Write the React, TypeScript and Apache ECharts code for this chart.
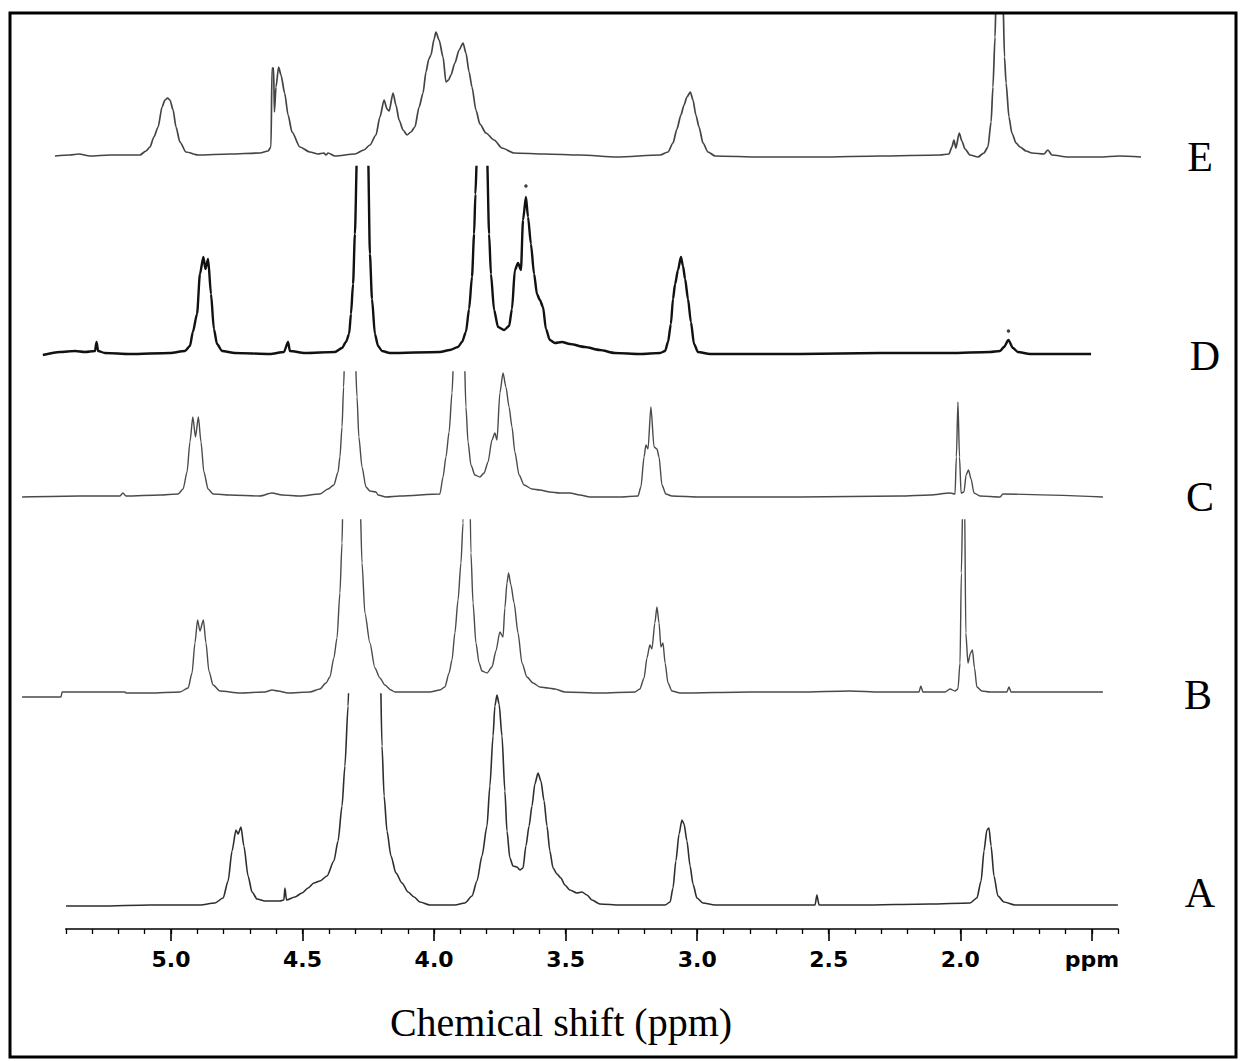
import React, { useEffect, useRef } from "react";
import * as echarts from "echarts";

// Stacked 1H NMR spectra, ppm vs intensity (relative)
const traceNames = ["E", "D", "C", "B", "A"];

const specE: [number, number][] = [
  [5.441, 1], [5.384, 2], [5.35, 3], [5.308, 1], [5.232, 2], [5.118, 2], [5.095, 6], [5.08, 10],
  [5.065, 20], [5.049, 30], [5.034, 50], [5.023, 57], [5.013, 59], [5.004, 57], [4.992, 47],
  [4.981, 30], [4.966, 15], [4.943, 5], [4.897, 2], [4.776, 3], [4.662, 4], [4.631, 6], [4.62, 10],
  [4.616, 89], [4.61, 89], [4.607, 45], [4.601, 70], [4.591, 90], [4.582, 82], [4.568, 64],
  [4.555, 42], [4.54, 25], [4.51, 10], [4.472, 5], [4.441, 3], [4.419, 4], [4.411, 2], [4.403, 4],
  [4.377, 1], [4.301, 3], [4.267, 7], [4.244, 12], [4.221, 22], [4.206, 40], [4.19, 57], [4.179, 48],
  [4.171, 46], [4.156, 64], [4.145, 52], [4.133, 37], [4.118, 27], [4.103, 22], [4.088, 25],
  [4.073, 30], [4.057, 50], [4.042, 64], [4.031, 85], [4.02, 98], [4.012, 102], [4.0, 118],
  [3.993, 125], [3.981, 117], [3.966, 100], [3.955, 75], [3.945, 77], [3.936, 82], [3.921, 94],
  [3.905, 107], [3.89, 114], [3.879, 104], [3.867, 85], [3.856, 70], [3.841, 47], [3.826, 33],
  [3.803, 24], [3.772, 17], [3.742, 9], [3.696, 4], [3.579, 3], [3.446, 2], [3.305, 0], [3.141, 2],
  [3.111, 5], [3.092, 14], [3.077, 28], [3.062, 42], [3.05, 52], [3.039, 60], [3.026, 65],
  [3.016, 57], [3.005, 42], [2.993, 30], [2.978, 14], [2.959, 5], [2.932, 1], [2.761, 0], [2.533, 0],
  [2.305, 1], [2.077, 2], [2.043, 3], [2.032, 10], [2.024, 17], [2.017, 9], [2.004, 24], [1.994, 16],
  [1.982, 8], [1.963, 2], [1.933, 0], [1.91, 4], [1.895, 10], [1.883, 35], [1.876, 70], [1.868, 120],
  [1.864, 160], [1.851, 250], [1.838, 160], [1.832, 100], [1.826, 74], [1.815, 40], [1.804, 24],
  [1.788, 14], [1.773, 10], [1.75, 6], [1.728, 4], [1.682, 3], [1.667, 7], [1.652, 2], [1.591, 0],
  [1.469, 0], [1.397, 1], [1.313, 0],
];

const specD: [number, number][] = [
  [5.487, -1], [5.422, 2], [5.365, 3], [5.327, 2], [5.289, 3], [5.283, 12], [5.277, 3], [5.251, 1],
  [5.156, 0], [5.004, 1], [4.947, 3], [4.928, 8], [4.917, 22], [4.901, 40], [4.89, 80], [4.877, 97],
  [4.869, 85], [4.859, 95], [4.848, 60], [4.837, 25], [4.825, 10], [4.806, 3], [4.757, 1], [4.624, 0],
  [4.571, 2], [4.555, 12], [4.548, 3], [4.491, 1], [4.377, 2], [4.35, 6], [4.335, 12], [4.323, 20],
  [4.316, 40], [4.308, 70], [4.301, 120], [4.293, 200], [4.272, 300], [4.251, 200], [4.244, 100],
  [4.236, 55], [4.225, 20], [4.213, 8], [4.198, 3], [4.168, 1], [3.978, 2], [3.94, 4], [3.909, 7],
  [3.894, 12], [3.879, 22], [3.867, 45], [3.856, 77], [3.848, 120], [3.843, 160], [3.837, 200],
  [3.818, 300], [3.799, 200], [3.791, 120], [3.784, 80], [3.772, 44], [3.757, 27], [3.734, 24],
  [3.715, 28], [3.704, 45], [3.693, 84], [3.681, 91], [3.67, 84], [3.662, 134], [3.651, 157],
  [3.643, 137], [3.632, 110], [3.62, 80], [3.609, 60], [3.598, 54], [3.586, 47], [3.575, 25],
  [3.56, 14], [3.541, 11], [3.514, 12], [3.484, 10], [3.427, 7], [3.37, 4], [3.313, 1], [3.217, 0],
  [3.141, 1], [3.122, 3], [3.111, 12], [3.1, 30], [3.092, 55], [3.084, 70], [3.073, 84], [3.062, 97],
  [3.054, 88], [3.046, 75], [3.035, 55], [3.024, 32], [3.012, 10], [2.997, 2], [2.951, 0], [2.609, 0],
  [2.305, 1], [2.039, 1], [1.887, 2], [1.849, 3], [1.834, 7], [1.817, 14], [1.8, 6], [1.781, 2],
  [1.735, 0], [1.503, 0],
];

const starsD: [number, number][] = [[3.651, 168], [1.817, 23]];

const specC: [number, number][] = [
  [5.566, 0], [5.346, 1], [5.194, 1], [5.183, 4], [5.171, 1], [5.042, 2], [4.973, 3], [4.954, 8],
  [4.939, 25], [4.928, 55], [4.917, 80], [4.907, 60], [4.896, 80], [4.886, 55], [4.875, 25],
  [4.859, 8], [4.84, 3], [4.776, 2], [4.662, 1], [4.616, 4], [4.578, 2], [4.51, 1], [4.434, 3],
  [4.403, 8], [4.381, 12], [4.365, 25], [4.358, 40], [4.35, 70], [4.344, 110], [4.339, 150],
  [4.32, 200], [4.301, 150], [4.293, 100], [4.286, 60], [4.274, 30], [4.259, 10], [4.244, 6],
  [4.221, 5], [4.213, 2], [4.183, 0], [4.13, 1], [3.978, 3], [3.966, 20], [3.955, 40], [3.943, 65],
  [3.932, 104], [3.924, 150], [3.905, 200], [3.886, 150], [3.879, 90], [3.871, 55], [3.86, 32],
  [3.845, 22], [3.826, 20], [3.81, 24], [3.795, 35], [3.78, 57], [3.769, 64], [3.761, 57],
  [3.75, 104], [3.738, 124], [3.727, 110], [3.715, 90], [3.704, 70], [3.693, 45], [3.677, 22],
  [3.658, 12], [3.628, 8], [3.598, 7], [3.56, 5], [3.522, 4], [3.484, 4], [3.446, 2], [3.407, 0],
  [3.294, 0], [3.225, 1], [3.214, 10], [3.202, 40], [3.195, 52], [3.187, 48], [3.176, 90],
  [3.164, 50], [3.153, 48], [3.145, 40], [3.134, 12], [3.119, 3], [3.096, 1], [2.989, 0], [2.609, 0],
  [2.229, 1], [2.115, 2], [2.039, 4], [2.02, 3], [2.015, 40], [2.009, 95], [2.003, 40], [1.997, 4],
  [1.986, 5], [1.978, 22], [1.969, 27], [1.959, 18], [1.948, 4], [1.925, 1], [1.849, 0], [1.838, 3],
  [1.458, 0],
];

const specB: [number, number][] = [
  [5.566, -4], [5.418, -4], [5.414, 1], [5.175, 1], [5.171, 0], [5.08, 0], [4.966, 1], [4.935, 5],
  [4.92, 20], [4.909, 50], [4.899, 73], [4.89, 62], [4.877, 73], [4.867, 50], [4.856, 22], [4.84, 8],
  [4.814, 2], [4.738, 0], [4.643, 1], [4.616, 3], [4.593, 2], [4.555, 0], [4.472, 1], [4.434, 4],
  [4.411, 10], [4.396, 16], [4.381, 35], [4.369, 55], [4.358, 100], [4.35, 150], [4.346, 200],
  [4.339, 260], [4.312, 320], [4.289, 260], [4.282, 200], [4.274, 130], [4.263, 80], [4.244, 50],
  [4.225, 25], [4.206, 15], [4.187, 8], [4.164, 3], [4.149, 1], [4.016, 1], [3.978, 3], [3.959, 6],
  [3.943, 20], [3.932, 33], [3.921, 60], [3.909, 93], [3.898, 130], [3.89, 170], [3.883, 260],
  [3.875, 300], [3.867, 260], [3.86, 140], [3.852, 90], [3.841, 50], [3.829, 30], [3.818, 22],
  [3.799, 20], [3.78, 26], [3.765, 42], [3.75, 61], [3.738, 56], [3.731, 85], [3.723, 110],
  [3.717, 120], [3.708, 108], [3.696, 90], [3.681, 60], [3.666, 30], [3.647, 16], [3.624, 10],
  [3.598, 6], [3.567, 5], [3.541, 4], [3.503, 1], [3.37, 0], [3.237, 1], [3.218, 4], [3.202, 15],
  [3.191, 35], [3.18, 48], [3.172, 44], [3.161, 70], [3.153, 86], [3.145, 70], [3.138, 46],
  [3.13, 50], [3.122, 30], [3.111, 10], [3.096, 2], [3.065, 0], [2.799, 1], [2.609, 1], [2.419, 2],
  [2.305, 1], [2.157, 1], [2.15, 7], [2.142, 1], [2.058, 1], [2.039, 4], [2.02, 2], [2.009, 4],
  [2.001, 30], [1.996, 120], [1.99, 200], [1.984, 200], [1.979, 60], [1.971, 30], [1.961, 40],
  [1.954, 43], [1.946, 25], [1.937, 6], [1.918, 2], [1.887, 1], [1.823, 1], [1.815, 6], [1.807, 1],
  [1.659, 1], [1.458, 1],
];

const specA: [number, number][] = [
  [5.399, 0], [5.27, 0], [5.08, 1], [4.89, 1], [4.833, 3], [4.802, 8], [4.783, 25], [4.768, 55],
  [4.753, 76], [4.745, 72], [4.734, 79], [4.723, 60], [4.707, 30], [4.692, 14], [4.673, 7],
  [4.643, 5], [4.586, 5], [4.571, 6], [4.567, 18], [4.561, 6], [4.529, 9], [4.502, 13], [4.479, 18],
  [4.457, 23], [4.434, 25], [4.407, 30], [4.381, 45], [4.365, 65], [4.35, 100], [4.339, 140],
  [4.327, 200], [4.32, 260], [4.312, 330], [4.263, 400], [4.213, 330], [4.206, 260], [4.198, 160],
  [4.19, 110], [4.179, 75], [4.164, 50], [4.145, 33], [4.122, 23], [4.099, 14], [4.076, 9],
  [4.054, 4], [4.016, 1], [3.921, 1], [3.883, 3], [3.856, 10], [3.837, 25], [3.818, 50], [3.799, 80],
  [3.788, 120], [3.776, 170], [3.769, 200], [3.761, 211], [3.753, 202], [3.742, 170], [3.731, 115],
  [3.723, 75], [3.712, 48], [3.7, 40], [3.685, 39], [3.674, 36], [3.662, 38], [3.651, 60],
  [3.639, 80], [3.628, 100], [3.617, 122], [3.605, 133], [3.594, 125], [3.582, 105], [3.571, 80],
  [3.56, 55], [3.548, 38], [3.533, 32], [3.518, 28], [3.503, 21], [3.484, 16], [3.457, 13],
  [3.438, 14], [3.419, 11], [3.4, 6], [3.37, 2], [3.294, 1], [3.122, 1], [3.103, 4], [3.092, 18],
  [3.081, 45], [3.069, 72], [3.058, 86], [3.05, 82], [3.039, 65], [3.027, 40], [3.016, 22],
  [3.001, 8], [2.978, 3], [2.932, 1], [2.761, 1], [2.552, 1], [2.545, 11], [2.537, 1], [2.381, 1],
  [2.115, 2], [1.963, 3], [1.937, 8], [1.921, 25], [1.91, 55], [1.899, 76], [1.891, 78], [1.883, 60],
  [1.872, 30], [1.857, 10], [1.834, 4], [1.792, 1], [1.659, 1], [1.401, 1],
];

const spectra = [specE, specD, specC, specB, specA];

const majorTicks = [1.5, 2.0, 2.5, 3.0, 3.5, 4.0, 4.5, 5.0];
const minorTicks = [
  1.4, 1.5, 1.6, 1.7, 1.8, 1.9, 2.0, 2.1, 2.2, 2.3, 2.4, 2.5, 2.6, 2.7, 2.8, 2.9, 3.0, 3.1, 3.2, 3.3,
  3.4, 3.5, 3.6, 3.7, 3.8, 3.9, 4.0, 4.1, 4.2, 4.3, 4.4, 4.5, 4.6, 4.7, 4.8, 4.9, 5.0, 5.1, 5.2, 5.3, 5.4,
];
const unitLabel = "ppm";
const axisTitle = "Chemical shift (ppm)";

// layout (pixels)
const PX_PER_PPM = 263.1;
const X5 = 171; // x pixel of 5.0 ppm
const DATA_MIN = 1.3;
const DATA_MAX = 5.6;
const AXIS_MIN = 1.4;
const AXIS_MAX = 5.4;
const baselines = [157, 354, 497, 693, 906];
const clipTops = [13, 167, 372, 520, 694];
const labelPos = [
  [1200, 157],
  [1205, 356],
  [1200, 497],
  [1198, 695],
  [1200, 893],
];
const lineStyles = [
  { color: "#444444", width: 1.7 },
  { color: "#111111", width: 2.4 },
  { color: "#4a4a4a", width: 1.4 },
  { color: "#4a4a4a", width: 1.4 },
  { color: "#2e2e2e", width: 1.6 },
];

export default function App() {
  const ref = useRef<HTMLDivElement>(null);
  useEffect(() => {
    if (!ref.current) return;
    const chart = echarts.init(ref.current, null, { renderer: "svg" });
    const dataLeft = X5 - (DATA_MAX - 5) * PX_PER_PPM;
    const dataWidth = (DATA_MAX - DATA_MIN) * PX_PER_PPM;
    const axisLeft = X5 - (AXIS_MAX - 5) * PX_PER_PPM;
    const axisWidth = (AXIS_MAX - AXIS_MIN) * PX_PER_PPM;

    const grids: any[] = [];
    const xAxes: any[] = [];
    const yAxes: any[] = [];
    const series: any[] = [];
    spectra.forEach((sp, i) => {
      const h = baselines[i] - clipTops[i];
      grids.push({ left: dataLeft, width: dataWidth, top: clipTops[i], height: h + 10 });
      xAxes.push({ gridIndex: i, type: "value", min: DATA_MIN, max: DATA_MAX, inverse: true, show: false });
      yAxes.push({ gridIndex: i, type: "value", min: -10, max: h, show: false });
      series.push({
        type: "line",
        name: traceNames[i],
        xAxisIndex: i,
        yAxisIndex: i,
        data: sp,
        showSymbol: false,
        smooth: 0.25,
        smoothMonotone: "x",
        clip: true,
        lineStyle: { color: lineStyles[i].color, width: lineStyles[i].width },
      });
    });
    series.push({
      type: "scatter",
      xAxisIndex: 1,
      yAxisIndex: 1,
      data: starsD,
      symbolSize: 3.5,
      itemStyle: { color: "#111" },
    });

    // visible ppm axis
    grids.push({ left: axisLeft, width: axisWidth, top: 880, height: 49 });
    const ai = grids.length - 1;
    xAxes.push({
      gridIndex: ai,
      type: "value",
      min: AXIS_MIN,
      max: AXIS_MAX,
      inverse: true,
      position: "bottom",
      axisLine: { show: true, lineStyle: { color: "#000", width: 1.6 } },
      axisTick: { show: true, inside: false, length: 12, customValues: majorTicks, lineStyle: { color: "#000", width: 1.6 } },
      axisLabel: {
        show: true,
        customValues: majorTicks,
        margin: 19,
        color: "#000",
        fontSize: 22,
        fontWeight: "bold",
        fontFamily: "DejaVu Sans, Arial, sans-serif",
        formatter: (v: number) => (Math.abs(v - majorTicks[0]) < 1e-6 ? unitLabel : v.toFixed(1)),
      },
      splitLine: { show: false },
    });
    xAxes.push({
      gridIndex: ai,
      type: "value",
      min: AXIS_MIN,
      max: AXIS_MAX,
      inverse: true,
      position: "bottom",
      axisLine: { show: false },
      axisTick: { show: true, inside: false, length: 5, customValues: minorTicks, lineStyle: { color: "#000", width: 1.3 } },
      axisLabel: { show: false },
      splitLine: { show: false },
    });
    yAxes.push({ gridIndex: ai, type: "value", min: 0, max: 1, show: false });

    const graphics: any[] = [
      {
        type: "rect",
        shape: { x: 10, y: 13, width: 1226, height: 1044 },
        style: { fill: "none", stroke: "#000", lineWidth: 3 },
        z: 10,
      },
      {
        type: "text",
        x: 561,
        y: 1022,
        style: {
          text: axisTitle,
          fontFamily: "Liberation Serif, Times New Roman, serif",
          fontSize: 40,
          fill: "#000",
          textAlign: "center",
          textVerticalAlign: "middle",
        },
      },
    ];
    traceNames.forEach((n, i) => {
      graphics.push({
        type: "text",
        x: labelPos[i][0],
        y: labelPos[i][1],
        style: {
          text: n,
          fontFamily: "Liberation Serif, Times New Roman, serif",
          fontSize: 42,
          fill: "#000",
          textAlign: "center",
          textVerticalAlign: "middle",
        },
      });
    });

    chart.setOption({
      animation: false,
      backgroundColor: "#fff",
      grid: grids,
      xAxis: xAxes,
      yAxis: yAxes,
      series,
      graphic: graphics,
    });
    return () => chart.dispose();
  }, []);
  return (
    <div
      ref={ref}
      style={{ position: "fixed", left: 0, top: 0, width: 1241, height: 1061, background: "#fff" }}
    />
  );
}
